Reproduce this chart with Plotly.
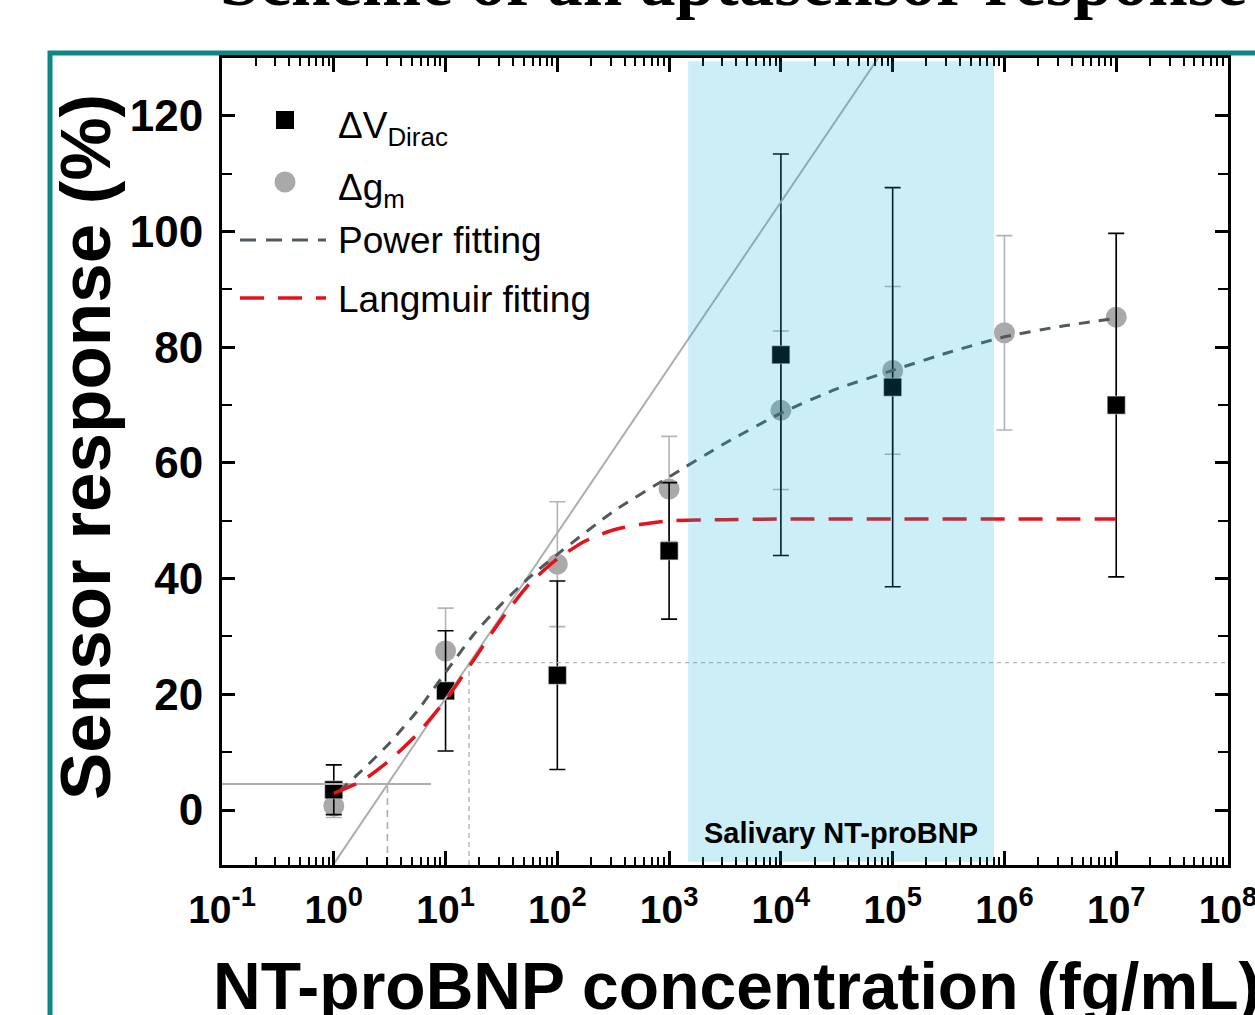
import numpy as np
import plotly.graph_objects as go

# ---------------- data ----------------
conc_dv = [1e0, 1e1, 1e2, 1e3, 1e4, 1e5, 1e7]
dv_dirac = [3.5, 20.6, 23.3, 44.8, 78.7, 73.1, 70.0]
dv_dirac_err = [4.3, 10.4, 16.3, 11.8, 34.7, 34.5, 29.7]

conc_gm = [1e0, 1e1, 1e2, 1e3, 1e4, 1e5, 1e6, 1e7]
dg_m = [0.7, 27.5, 42.5, 55.5, 69.1, 76.0, 82.5, 85.2]
dg_m_err = [2.0, 7.4, 10.8, 9.1, 13.7, 14.5, 16.8, 14.4]

power_log_conc = [0.05, 0.25, 0.5, 0.75, 1.0, 1.25, 1.5, 1.75, 2.0, 2.5,
                  3.0, 3.5, 4.0, 4.5, 5.0, 5.5, 6.0, 6.5, 7.0]
power_fit = [3.3, 6.8, 11.6, 17.2, 23.8, 30.3, 35.6, 40.2, 44.2, 51.6,
             57.6, 63.4, 68.6, 72.8, 76.0, 79.1, 81.8, 83.6, 85.0]

langmuir_log_conc = [0.0, 0.25, 0.5, 0.75, 1.0, 1.25, 1.5, 1.75, 2.0, 2.25,
                     2.5, 2.75, 3.0, 3.5, 4.0, 5.0, 6.0, 7.0]
langmuir_fit = [2.9, 5.0, 8.6, 13.2, 19.0, 25.9, 33.0, 39.1, 43.4, 46.5,
                48.4, 49.4, 50.0, 50.2, 50.3, 50.3, 50.3, 50.3]

linear_log_conc = [0.0, 5.0]
linear_fit = [-9.3, 133.7]

lod_response = 4.5
lod_log_conc = 0.48
lod_line_log_span = [-1.0, 0.87]
loq_response = 25.5
loq_log_conc = 1.21
axis_bottom = -9.5
axis_top = 130.0
x_log_range = [-1, 8]

salivary_log_range = [3.17, 5.906]

x_tick_exponents = [-1, 0, 1, 2, 3, 4, 5, 6, 7, 8]
y_tick_values = [0, 20, 40, 60, 80, 100, 120]

# ---------------- figure ----------------
fig = go.Figure()

# gray circles (delta g_m)
fig.add_trace(go.Scatter(
    x=conc_gm, y=dg_m, mode="markers",
    marker=dict(symbol="circle", size=21, color="#a9a9a9"),
    error_y=dict(type="data", array=dg_m_err, color="#b4b4b4", thickness=1.6, width=8),
    showlegend=False))

# black squares (delta V_Dirac)
fig.add_trace(go.Scatter(
    x=conc_dv, y=dv_dirac, mode="markers",
    marker=dict(symbol="square", size=18, color="black", line=dict(color="#dddddd", width=0.6)),
    error_y=dict(type="data", array=dv_dirac_err, color="black", thickness=1.6, width=8),
    showlegend=False))

# linear calibration line
fig.add_trace(go.Scatter(
    x=[10 ** v for v in linear_log_conc], y=linear_fit, mode="lines",
    line=dict(color="#aeaeae", width=2), showlegend=False))

# LOD lines
fig.add_trace(go.Scatter(
    x=[10 ** v for v in lod_line_log_span], y=[lod_response, lod_response], mode="lines",
    line=dict(color="#aeaeae", width=2.2), showlegend=False))
fig.add_trace(go.Scatter(
    x=[10 ** lod_log_conc, 10 ** lod_log_conc], y=[axis_bottom, lod_response], mode="lines",
    line=dict(color="#aeaeae", width=1.6, dash="7px,5px"), showlegend=False))

# LOQ lines
fig.add_trace(go.Scatter(
    x=[10 ** loq_log_conc, 10 ** x_log_range[1]], y=[loq_response, loq_response], mode="lines",
    line=dict(color="#b4b4b4", width=1.2, dash="4px,4px"), showlegend=False))
fig.add_trace(go.Scatter(
    x=[10 ** loq_log_conc, 10 ** loq_log_conc], y=[axis_bottom, loq_response], mode="lines",
    line=dict(color="#b4b4b4", width=1.4, dash="5px,4px"), showlegend=False))

# power fitting
fig.add_trace(go.Scatter(
    x=[10 ** v for v in power_log_conc], y=power_fit, mode="lines",
    line=dict(color="#505a5e", width=3, dash="11px,9px", shape="spline", smoothing=0.6),
    showlegend=False))

# Langmuir fitting
fig.add_trace(go.Scatter(
    x=[10 ** v for v in langmuir_log_conc], y=langmuir_fit, mode="lines",
    line=dict(color="#e3131b", width=3.5, dash="24px,14px", shape="spline", smoothing=0.6),
    showlegend=False))

# ---------------- layout ----------------
W, H = 1255, 1015
ML, MR, MT, MB = 222, 27, 58, 150
PW, PH = W - ML - MR, H - MT - MB


def px(xp):
    return (xp - ML) / PW


def py(yp):
    return (H - MB - yp) / PH


fig.update_layout(
    width=W, height=H,
    margin=dict(l=ML, r=MR, t=MT, b=MB, pad=0, autoexpand=False),
    paper_bgcolor="white", plot_bgcolor="white",
    showlegend=False,
)

fig.update_xaxes(
    type="log", range=x_log_range, automargin=False,
    tickmode="array",
    tickvals=[10 ** e for e in x_tick_exponents],
    ticktext=["10<sup>%d</sup>" % e for e in x_tick_exponents],
    ticks="inside", ticklen=14, tickwidth=2.5, tickcolor="black",
    minor=dict(dtick="D1", ticks="inside", ticklen=8, tickwidth=1.8, tickcolor="black", showgrid=False),
    showline=True, linewidth=3, linecolor="black", mirror="allticks",
    showgrid=False, zeroline=False,
    tickfont=dict(family="Liberation Sans, Arial", size=39, color="black", weight="bold"),
    ticklabelstandoff=8, ticklabeloverflow="allow",
)
fig.update_yaxes(
    range=[axis_bottom, axis_top], automargin=False,
    tickmode="array", tickvals=y_tick_values,
    ticks="inside", ticklen=13, tickwidth=2.5, tickcolor="black",
    minor=dict(dtick=10, ticks="inside", ticklen=10, tickwidth=2, tickcolor="black", showgrid=False),
    showline=True, linewidth=3, linecolor="black", mirror="allticks",
    showgrid=False, zeroline=False,
    tickfont=dict(family="Liberation Sans, Arial", size=44, color="black", weight="bold"),
    ticklabelstandoff=7, ticklabeloverflow="allow",
)

shapes = []
# salivary range shading (drawn above with transparency)
shapes.append(dict(type="rect", xref="x", yref="paper",
                   x0=10 ** salivary_log_range[0], x1=10 ** salivary_log_range[1],
                   y0=0.004, y1=0.996, fillcolor="rgba(0,168,212,0.2)",
                   line=dict(width=0), layer="above"))
# teal slide frame
shapes.append(dict(type="rect", xref="paper", yref="paper",
                   x0=px(50), x1=px(1265), y0=py(1040), y1=py(53),
                   line=dict(color="#0f8686", width=5), fillcolor="rgba(0,0,0,0)", layer="below"))

# manual legend
LEG_X_MARK = px(285)
shapes.append(dict(type="rect", xref="paper", yref="paper", xsizemode="pixel", ysizemode="pixel",
                   xanchor=LEG_X_MARK, yanchor=py(120), x0=-9, x1=9, y0=-9, y1=9,
                   fillcolor="black", line=dict(width=0)))
shapes.append(dict(type="circle", xref="paper", yref="paper", xsizemode="pixel", ysizemode="pixel",
                   xanchor=LEG_X_MARK, yanchor=py(182), x0=-10.5, x1=10.5, y0=-10.5, y1=10.5,
                   fillcolor="#a9a9a9", line=dict(width=0)))
shapes.append(dict(type="line", xref="paper", yref="paper",
                   x0=px(240), x1=px(326), y0=py(240), y1=py(240),
                   line=dict(color="#505a5e", width=3, dash="16px,10px")))
shapes.append(dict(type="line", xref="paper", yref="paper",
                   x0=px(240), x1=px(326), y0=py(298), y1=py(298),
                   line=dict(color="#e3131b", width=3.5, dash="24px,14px")))

LEGFONT = dict(family="Liberation Sans, Arial", size=37, color="black")
annotations = [
    dict(text="ΔV<sub>Dirac</sub>", x=px(336), y=py(128), xref="paper", yref="paper",
         xanchor="left", yanchor="middle", showarrow=False, font=LEGFONT),
    dict(text="Δg<sub>m</sub>", x=px(336), y=py(190), xref="paper", yref="paper",
         xanchor="left", yanchor="middle", showarrow=False, font=LEGFONT),
    dict(text="Power fitting", x=px(336), y=py(241), xref="paper", yref="paper",
         xanchor="left", yanchor="middle", showarrow=False, font=LEGFONT),
    dict(text="Langmuir fitting", x=px(336), y=py(299), xref="paper", yref="paper",
         xanchor="left", yanchor="middle", showarrow=False, font=LEGFONT),
    # shaded-region label (annotation x on log axis is given as exponent)
    dict(text="Salivary NT-proBNP", x=sum(salivary_log_range) / 2, y=-4.0, xref="x", yref="y",
         xanchor="center", yanchor="middle", showarrow=False,
         font=dict(family="Liberation Sans, Arial", size=29, color="black", weight="bold")),
    # axis titles
    dict(text="Sensor response (%)", x=px(86), y=py(447), xref="paper", yref="paper",
         xanchor="center", yanchor="middle", textangle=-90, showarrow=False,
         font=dict(family="Liberation Sans, Arial", size=71, color="black", weight="bold")),
    dict(text="NT-proBNP concentration (fg/mL)", x=px(736), y=py(986), xref="paper", yref="paper",
         xanchor="center", yanchor="middle", showarrow=False,
         font=dict(family="Liberation Sans, Arial", size=66, color="black", weight="bold")),
    # slide title (partly cut by the top edge)
    dict(text="Scheme of an aptasensor response", x=px(218), y=py(22), xref="paper", yref="paper",
         xanchor="left", yanchor="bottom", showarrow=False,
         font=dict(family="Liberation Serif, Times New Roman", size=71, color="black", weight="bold")),
]

fig.update_layout(shapes=shapes, annotations=annotations)

fig.write_html("out.html")
